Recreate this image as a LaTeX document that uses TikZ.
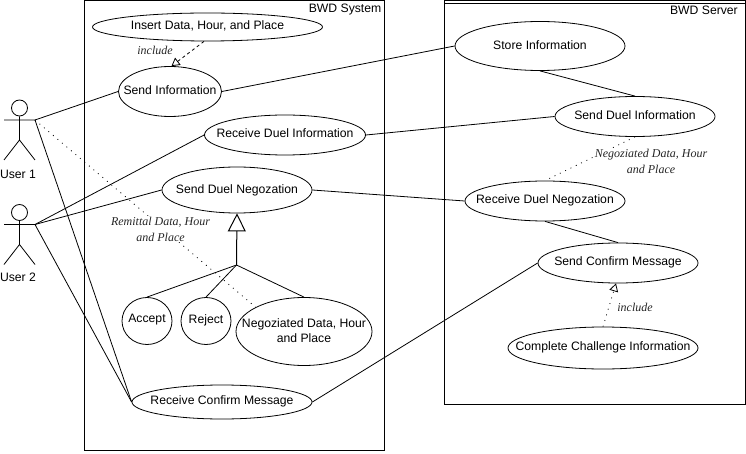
\documentclass[tikz,border=0pt]{standalone}
\usepackage{fontspec}
\setmainfont{Liberation Sans}
\newfontfamily\notefont{Liberation Serif}
\usetikzlibrary{shapes.geometric,arrows.meta}
\tikzset{
  usecase/.style={draw,ellipse,fill=white,inner sep=0pt,line width=0.8pt},
  uctext/.style={font=\fontsize{12.2}{15}\selectfont,align=center,inner sep=0pt,yshift=1pt},
  boundary/.style={draw,line width=1pt},
  assoc/.style={line width=0.8pt},
  sparsedots/.style={line width=0.8pt,dash pattern=on 0.9pt off 5pt},
  note/.style={font=\notefont\itshape\fontsize{12}{16}\selectfont,align=center,inner sep=1pt,text=black!85},
  plain/.style={font=\fontsize{12.2}{15}\selectfont,inner sep=0pt},
  opentip/.style={-{Triangle[open,length=8pt,width=9pt]}},
  actorhead/.style={draw,circle,minimum size=16pt,inner sep=0pt,line width=0.8pt},
}
\begin{document}
\begin{tikzpicture}[x=1pt,y=-1pt]
\useasboundingbox (0,0) rectangle (746,454);
% boundaries
\draw[boundary] (84.5,0.5) rectangle (384.5,450);
\draw[boundary] (444.5,0.5) rectangle (745,404);
\draw[boundary] (444.5,4) -- (745,4);
\node[plain,anchor=east] (systitle) at (381.5,10) {BWD System};
\node[plain,anchor=east] (srvtitle) at (738,10) {BWD Server};
% actors
\node[actorhead] (u1head) at (19.5,108) {};
\coordinate (u1hand) at (35,120);
\coordinate (u1hip) at (19.5,140);
\draw[assoc] (u1head.south) -- (u1hip) (4,120) -- (u1hand) (4,160) -- (u1hip) -- (35,160);
\node[plain] (u1) at (18,174) {User 1};
\node[actorhead] (u2head) at (19.5,212.5) {};
\coordinate (u2hand) at (35,224.5);
\coordinate (u2hip) at (19.5,244.5);
\draw[assoc] (u2head.south) -- (u2hip) (4,224.5) -- (u2hand) (4,264.5) -- (u2hip) -- (35,264.5);
\node[plain] (u2) at (18,277.5) {User 2};
% use cases
\node[usecase,minimum width=230pt,minimum height=28pt,label={[uctext]center:Insert Data, Hour, and Place}] (insert) at (207.5,27) {};
\node[usecase,minimum width=103pt,minimum height=50pt,label={[uctext]center:Send Information}] (sendinfo) at (170,91.5) {};
\node[usecase,minimum width=161pt,minimum height=40pt,label={[uctext,yshift=1pt]center:Receive Duel Information}] (recvinfo) at (285,135) {};
\node[usecase,minimum width=150pt,minimum height=46pt,label={[uctext,yshift=-1pt]center:Send Duel Negozation}] (sendneg) at (237,190) {};
\node[usecase,minimum width=50pt,minimum height=47pt,label={[uctext]center:Accept}] (accept) at (147,321) {};
\node[usecase,minimum width=50pt,minimum height=47pt,label={[uctext]center:Reject}] (reject) at (206,321) {};
\node[usecase,minimum width=136pt,minimum height=68pt,label={[uctext]center:Negoziated Data, Hour\\and Place}] (negdata) at (304,331.5) {};
\node[usecase,minimum width=180pt,minimum height=34pt,label={[uctext]center:Receive Confirm Message}] (recvconf) at (222,402) {};
\node[usecase,minimum width=170pt,minimum height=49pt,label={[uctext]center:Store Information}] (store) at (540,46) {};
\node[usecase,minimum width=160pt,minimum height=40pt,label={[uctext]center:Send Duel Information}] (sendinfob) at (635,116.5) {};
\node[usecase,minimum width=160pt,minimum height=40pt,label={[uctext]center:Receive Duel Negozation}] (recvneg) at (545,201) {};
\node[usecase,minimum width=160pt,minimum height=40pt,label={[uctext]center:Send Confirm Message}] (sendconf) at (618,263) {};
\node[usecase,minimum width=190pt,minimum height=42pt,label={[uctext]center:Complete Challenge Information}] (complete) at (603,348) {};
% associations
\draw[assoc] (u1hand) -- (sendinfo.west);
\draw[assoc] (u1hand) -- (recvconf.west);
\draw[assoc] (u2hand) -- (recvinfo.west);
\draw[assoc] (u2hand) -- (sendneg.west);
\draw[assoc] (u2hand) -- (recvconf.west);
\draw[assoc] (sendinfo.east) -- (store.west);
\draw[assoc] (recvinfo.east) -- (sendinfob.west);
\draw[assoc] (sendneg.east) -- (recvneg.west);
\draw[assoc] (recvconf.east) -- (sendconf.west);
\draw[assoc] (store.south) -- (sendinfob.north);
\draw[assoc] (recvneg.south) -- (sendconf.north);
% dotted links
\draw[sparsedots] (u1hand) -- (negdata.north west);
\draw[sparsedots] (sendinfob.south) -- (recvneg.north);
% include
\draw[dashed,assoc,opentip] ([xshift=-3.5pt]insert.south) -- ([xshift=1.5pt]sendinfo.north);
\draw[sparsedots,opentip] (complete.north) -- ([xshift=-2pt]sendconf.south);
% generalisation
\coordinate (fork) at (236.5,265);
\draw[line width=1pt,-{Triangle[open,length=18pt,width=18pt]}] (fork) -- (sendneg.south);
\draw[assoc] (fork) -- (accept.north);
\draw[assoc] (fork) -- (reject.north);
\draw[assoc] (fork) -- (negdata.north);
% notes
\node[note] (inc1) at (155,50.5) {include};
\node[note] (inc2) at (635,307) {include};
\node[note,fill=white] (remit) at (160.5,229) {Remittal Data, Hour\\and Place};
\node[note,fill=white] (nego) at (651,161.5) {Negoziated Data, Hour\\and Place};
\end{tikzpicture}
\end{document}
